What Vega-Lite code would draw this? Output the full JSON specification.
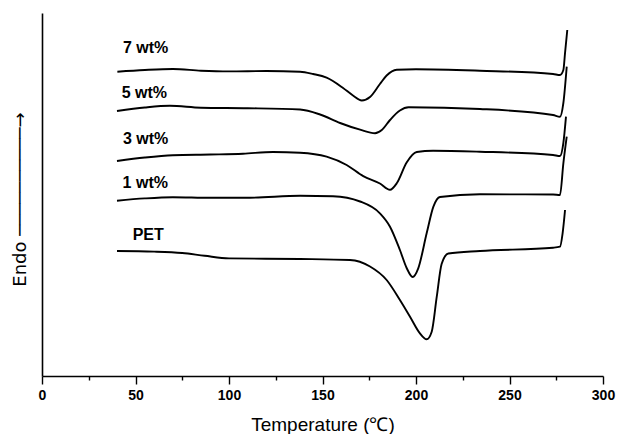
{
  "$schema": "https://vega.github.io/schema/vega-lite/v6.json",
  "autosize": "none",
  "width": 561,
  "height": 363,
  "padding": {"left": 42, "top": 13, "right": 14, "bottom": 58},
  "background": "white",
  "config": {
    "view": {"stroke": null},
    "font": "Liberation Sans",
    "axis": {"grid": false, "domainColor": "black", "tickColor": "black", "labelColor": "black", "titleColor": "black"}
  },
  "datasets": {
    "curves": [
      {"s": "7 wt%", "t": 40.3, "h": 304.3},
      {"s": "7 wt%", "t": 55.0, "h": 306},
      {"s": "7 wt%", "t": 70.0, "h": 307},
      {"s": "7 wt%", "t": 85.0, "h": 305.3},
      {"s": "7 wt%", "t": 100.0, "h": 304.6},
      {"s": "7 wt%", "t": 120.0, "h": 305},
      {"s": "7 wt%", "t": 138.0, "h": 304.3},
      {"s": "7 wt%", "t": 145.0, "h": 302},
      {"s": "7 wt%", "t": 152.2, "h": 298.3},
      {"s": "7 wt%", "t": 161.0, "h": 288},
      {"s": "7 wt%", "t": 166.3, "h": 280.5},
      {"s": "7 wt%", "t": 171.0, "h": 275.5},
      {"s": "7 wt%", "t": 175.4, "h": 279},
      {"s": "7 wt%", "t": 180.7, "h": 292},
      {"s": "7 wt%", "t": 184.3, "h": 300.5},
      {"s": "7 wt%", "t": 189.7, "h": 306.2},
      {"s": "7 wt%", "t": 200.0, "h": 306.8},
      {"s": "7 wt%", "t": 234.2, "h": 305.3},
      {"s": "7 wt%", "t": 273.3, "h": 302},
      {"s": "7 wt%", "t": 277.0, "h": 301},
      {"s": "7 wt%", "t": 278.8, "h": 306},
      {"s": "7 wt%", "t": 279.7, "h": 323},
      {"s": "7 wt%", "t": 280.9, "h": 346},

      {"s": "5 wt%", "t": 40.1, "h": 265},
      {"s": "5 wt%", "t": 55.0, "h": 268.5},
      {"s": "5 wt%", "t": 68.4, "h": 270.2},
      {"s": "5 wt%", "t": 85.0, "h": 268.3},
      {"s": "5 wt%", "t": 110.0, "h": 267.8},
      {"s": "5 wt%", "t": 138.0, "h": 266.5},
      {"s": "5 wt%", "t": 148.7, "h": 261.5},
      {"s": "5 wt%", "t": 159.4, "h": 253},
      {"s": "5 wt%", "t": 170.1, "h": 246.3},
      {"s": "5 wt%", "t": 178.1, "h": 242.8},
      {"s": "5 wt%", "t": 181.7, "h": 246},
      {"s": "5 wt%", "t": 186.1, "h": 256},
      {"s": "5 wt%", "t": 191.4, "h": 265.5},
      {"s": "5 wt%", "t": 196.0, "h": 268.7},
      {"s": "5 wt%", "t": 234.2, "h": 267},
      {"s": "5 wt%", "t": 273.3, "h": 261},
      {"s": "5 wt%", "t": 277.0, "h": 259.3},
      {"s": "5 wt%", "t": 278.8, "h": 273},
      {"s": "5 wt%", "t": 280.6, "h": 309.3},

      {"s": "3 wt%", "t": 40.1, "h": 215},
      {"s": "3 wt%", "t": 55.0, "h": 218.5},
      {"s": "3 wt%", "t": 70.0, "h": 220.8},
      {"s": "3 wt%", "t": 90.0, "h": 221.5},
      {"s": "3 wt%", "t": 107.5, "h": 222.3},
      {"s": "3 wt%", "t": 123.5, "h": 224},
      {"s": "3 wt%", "t": 138.0, "h": 223.3},
      {"s": "3 wt%", "t": 152.2, "h": 219.3},
      {"s": "3 wt%", "t": 162.9, "h": 211},
      {"s": "3 wt%", "t": 171.8, "h": 199.8},
      {"s": "3 wt%", "t": 180.7, "h": 192.5},
      {"s": "3 wt%", "t": 186.1, "h": 186.2},
      {"s": "3 wt%", "t": 189.7, "h": 192.7},
      {"s": "3 wt%", "t": 195.0, "h": 213.5},
      {"s": "3 wt%", "t": 200.4, "h": 224},
      {"s": "3 wt%", "t": 209.1, "h": 225.3},
      {"s": "3 wt%", "t": 234.2, "h": 224.3},
      {"s": "3 wt%", "t": 273.3, "h": 221},
      {"s": "3 wt%", "t": 277.0, "h": 220},
      {"s": "3 wt%", "t": 278.8, "h": 233},
      {"s": "3 wt%", "t": 280.2, "h": 259.3},

      {"s": "1 wt%", "t": 40.1, "h": 175.3},
      {"s": "1 wt%", "t": 55.0, "h": 177.6},
      {"s": "1 wt%", "t": 70.0, "h": 178.8},
      {"s": "1 wt%", "t": 90.0, "h": 178.2},
      {"s": "1 wt%", "t": 111.2, "h": 178.3},
      {"s": "1 wt%", "t": 138.0, "h": 180.3},
      {"s": "1 wt%", "t": 155.6, "h": 179.8},
      {"s": "1 wt%", "t": 170.1, "h": 174.5},
      {"s": "1 wt%", "t": 180.7, "h": 162.7},
      {"s": "1 wt%", "t": 186.1, "h": 149.3},
      {"s": "1 wt%", "t": 191.4, "h": 126},
      {"s": "1 wt%", "t": 195.0, "h": 108},
      {"s": "1 wt%", "t": 198.2, "h": 99},
      {"s": "1 wt%", "t": 201.2, "h": 107.7},
      {"s": "1 wt%", "t": 205.7, "h": 142.7},
      {"s": "1 wt%", "t": 209.3, "h": 169.3},
      {"s": "1 wt%", "t": 212.8, "h": 179},
      {"s": "1 wt%", "t": 234.2, "h": 181.7},
      {"s": "1 wt%", "t": 273.3, "h": 181.5},
      {"s": "1 wt%", "t": 277.0, "h": 181},
      {"s": "1 wt%", "t": 278.8, "h": 212.7},
      {"s": "1 wt%", "t": 280.6, "h": 239.3},

      {"s": "PET", "t": 40.1, "h": 125},
      {"s": "PET", "t": 60.0, "h": 124.4},
      {"s": "PET", "t": 75.0, "h": 123},
      {"s": "PET", "t": 87.0, "h": 120.2},
      {"s": "PET", "t": 100.0, "h": 117.6},
      {"s": "PET", "t": 138.0, "h": 117},
      {"s": "PET", "t": 164.7, "h": 116},
      {"s": "PET", "t": 175.4, "h": 109.5},
      {"s": "PET", "t": 184.3, "h": 96},
      {"s": "PET", "t": 191.4, "h": 76},
      {"s": "PET", "t": 196.8, "h": 59.3},
      {"s": "PET", "t": 202.1, "h": 42.7},
      {"s": "PET", "t": 205.7, "h": 36.7},
      {"s": "PET", "t": 208.4, "h": 44.3},
      {"s": "PET", "t": 211.1, "h": 79.3},
      {"s": "PET", "t": 213.7, "h": 112},
      {"s": "PET", "t": 217.3, "h": 122.5},
      {"s": "PET", "t": 234.2, "h": 125},
      {"s": "PET", "t": 273.3, "h": 128.3},
      {"s": "PET", "t": 277.0, "h": 129.3},
      {"s": "PET", "t": 278.4, "h": 142.7},
      {"s": "PET", "t": 279.7, "h": 166}
    ],
    "labels": [
      {"s": "7 wt%", "t": 43.3, "h": 323},
      {"s": "5 wt%", "t": 42.6, "h": 278},
      {"s": "3 wt%", "t": 43.3, "h": 232},
      {"s": "1 wt%", "t": 43.1, "h": 188},
      {"s": "PET", "t": 48.5, "h": 136}
    ]
  },
  "layer": [
    {
      "data": {"name": "curves"},
      "mark": {"type": "line", "color": "black", "strokeWidth": 1.9, "interpolate": "monotone"},
      "encoding": {
        "x": {
          "field": "t", "type": "quantitative",
          "scale": {"domain": [0, 300], "nice": false},
          "axis": {
            "orient": "bottom",
            "values": [0, 50, 100, 150, 200, 250, 300],
            "title": "Temperature (℃)",
            "titleFontSize": 19, "titleFontWeight": "normal", "titlePadding": 13,
            "labelFontSize": 14, "labelFontWeight": "bold", "labelPadding": 4, "tickSize": 8,
            "domainWidth": 1.6, "tickWidth": 1.4, "labelFlush": false
          }
        },
        "y": {
          "field": "h", "type": "quantitative",
          "scale": {"domain": [0, 363], "nice": false, "zero": false},
          "axis": {
            "title": "Endo ──────────→",
            "titleFont": "DejaVu Sans",
            "titleFontSize": 18, "titleFontWeight": "normal", "titlePadding": 13,
            "titleY": 186,
            "labels": false, "ticks": false, "domainWidth": 1.6
          }
        },
        "detail": {"field": "s"},
        "order": {"field": "t", "type": "quantitative"}
      }
    },
    {
      "data": {"name": "labels"},
      "mark": {"type": "text", "align": "left", "baseline": "alphabetic", "fontSize": 16, "fontWeight": "bold", "color": "black"},
      "encoding": {
        "x": {
          "field": "t", "type": "quantitative",
          "axis": {
            "orient": "bottom",
            "values": [25, 75, 125, 175, 225, 275],
            "labels": false, "domain": false, "title": null,
            "tickSize": 4, "tickWidth": 1.4
          }
        },
        "y": {"field": "h", "type": "quantitative"},
        "text": {"field": "s"}
      }
    }
  ],
  "resolve": {"axis": {"x": "independent"}}
}
